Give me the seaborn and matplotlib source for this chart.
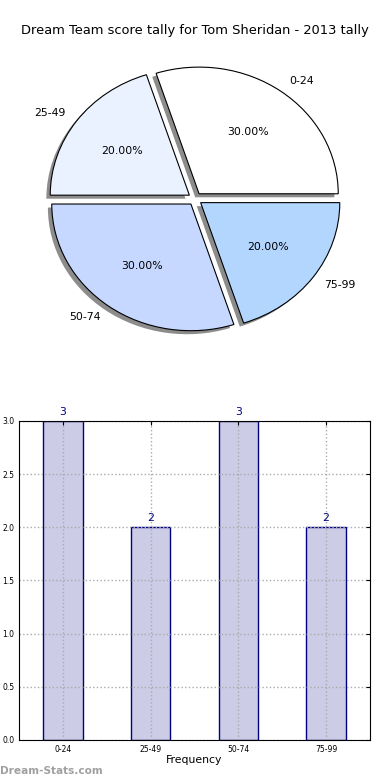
import numpy as np
import matplotlib
matplotlib.use("Agg")
import matplotlib.pyplot as plt
import seaborn as sns

# data
categories = ["0-24", "25-49", "50-74", "75-99"]
counts = [3, 2, 3, 2]
pie_colors = ["#ffffff", "#eaf1ff", "#c6d8ff", "#b3d6ff"]

TITLE = "Dream Team score tally for Tom Sheridan - 2013 tally"

sns.set_style("white")
plt.rcParams["font.family"] = ["DejaVu Sans"]
plt.rcParams["text.color"] = "black"
plt.rcParams["axes.labelcolor"] = "black"
plt.rcParams["xtick.color"] = "black"
plt.rcParams["ytick.color"] = "black"

fig = plt.figure(figsize=(3.9, 7.8), dpi=100)

# ---- pie ----
ax_pie = fig.add_axes([0.054, 0.542, 0.892, 0.406])
wedges, texts, autotexts = ax_pie.pie(
    counts,
    labels=categories,
    colors=pie_colors,
    explode=[0.05] * len(counts),
    autopct="%1.2f%%",
    shadow=dict(ox=-0.02, oy=-0.02, facecolor="#8c8c8c", edgecolor="none", alpha=1),
    wedgeprops=dict(edgecolor="black", linewidth=0.8),
    textprops=dict(fontsize=7.8, color="black"),
)
ax_pie.set_aspect("auto")
ax_pie.set_xlim(-1.25, 1.25)
ax_pie.set_ylim(-1.25, 1.25)
fig.text(0.5, 0.961, TITLE, ha="center", va="center", fontsize=9.4)

# ---- bars ----
ax = fig.add_axes([0.0487, 0.0513, 0.9, 0.409])
sns.barplot(x=categories, y=counts, ax=ax, width=0.45, color="#ccccE6",
            saturation=1, edgecolor="navy", linewidth=1)
ax.set_xlim(-0.5, 3.5)
ax.set_ylim(0, 3)
ax.set_yticks(np.arange(0, 3.01, 0.5))
ax.set_yticklabels([f"{v:.1f}" for v in np.arange(0, 3.01, 0.5)])
ax.tick_params(axis="both", labelsize=5.5, direction="in", length=3,
               top=True, right=True, color="black")
ax.set_xlabel("Frequency", fontsize=7.8, labelpad=1)
ax.set_ylabel("")
ax.grid(True, linestyle=":", color="#aaaaaa", linewidth=1)
ax.set_axisbelow(False)
for s in ax.spines.values():
    s.set_color("black")
    s.set_linewidth(0.8)
    s.set_zorder(5)

for i, v in enumerate(counts):
    ax.annotate(str(v), xy=(i, v), xytext=(0, 3), textcoords="offset points",
                ha="center", va="bottom", color="navy", fontsize=7.8,
                annotation_clip=False)

fig.text(0.0, 0.012, "Dream-Stats.com", ha="left", va="center",
         fontsize=7.6, color="#a0a0a0", fontweight="bold")

fig.savefig("out.png", dpi=100)
